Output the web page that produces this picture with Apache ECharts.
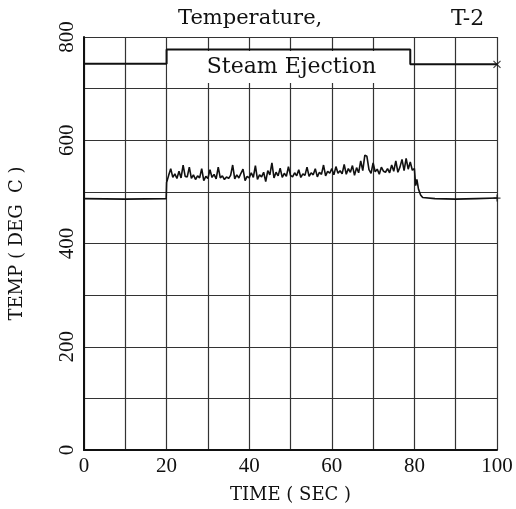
<!DOCTYPE html>
<html>
<head>
<meta charset="utf-8">
<script src="https://cdn.jsdelivr.net/npm/echarts@6/dist/echarts.min.js"></script>
<style>
  html, body { margin: 0; padding: 0; background: #fff; }
  #chart { width: 516px; height: 509px; }
</style>
</head>
<body>
<div id="chart"></div>
<script>
// upper trace (stepped)
const upperT = [0, 20, 20, 79, 79, 100]
const upperV = [748, 748, 776, 776, 747, 747]

// lower trace, flat before 20 s, noisy during ejection, back after 82 s
const lowT = [
  0, 10, 19.9,
  20.0, 20.5, 21.0, 21.5, 22.0, 22.5, 23.0, 23.5, 24.0, 24.5, 25.0, 25.5, 26.0, 26.5, 27.0, 27.5, 28.0, 28.5, 29.0, 29.5,
  30.0, 30.5, 31.0, 31.5, 32.0, 32.5, 33.0, 33.5, 34.0, 34.5, 35.0, 35.5, 36.0, 36.5, 37.0, 37.5, 38.0, 38.5, 39.0, 39.5,
  40.0, 40.5, 41.0, 41.5, 42.0, 42.5, 43.0, 43.5, 44.0, 44.5, 45.0, 45.5, 46.0, 46.5, 47.0, 47.5, 48.0, 48.5, 49.0, 49.5,
  50.0, 50.5, 51.0, 51.5, 52.0, 52.5, 53.0, 53.5, 54.0, 54.5, 55.0, 55.5, 56.0, 56.5, 57.0, 57.5, 58.0, 58.5, 59.0, 59.5,
  60.0, 60.5, 61.0, 61.5, 62.0, 62.5, 63.0, 63.5, 64.0, 64.5, 65.0, 65.5, 66.0, 66.5, 67.0, 67.5, 68.0, 68.5, 69.0, 69.5,
  70.0, 70.5, 71.0, 71.5, 72.0, 72.5, 73.0, 73.5, 74.0, 74.5, 75.0, 75.5, 76.0, 76.5, 77.0, 77.5, 78.0, 78.5, 79.0, 79.5,
  80.0, 80.3, 80.6, 81.0, 81.5, 82.0, 85, 90, 95, 100
]
const lowV = [
  487, 486, 487,
  518, 532, 545, 528, 535, 526, 540, 527, 552, 530, 529, 548, 526, 533, 524, 531, 527, 545, 522, 530,
  526, 543, 528, 534, 525, 548, 527, 531, 524, 529, 526, 532, 552, 525, 533, 527, 536, 544, 522, 530,
  527, 537, 528, 551, 524, 533, 529, 538, 520, 541, 533, 556, 527, 538, 531, 546, 528, 536, 530, 549,
  532, 529, 537, 531, 543, 528, 535, 532, 548, 530, 537, 533, 545, 529, 538, 534, 552, 531, 540, 536,
  545, 533, 549, 536, 541, 535, 553, 534, 545, 538, 551, 532, 547, 537, 560, 541, 571, 569, 543, 536,
  556, 539, 544, 534, 548, 540, 538, 545, 537, 552, 540, 560, 538, 548, 563, 541, 565, 544, 558, 542,
  545, 512, 524, 505, 494, 489, 487, 486, 487, 488
]

const xTicks = [0, 20, 40, 60, 80, 100]
const yTicks = [0, 200, 400, 600, 800]

const serif = '"Liberation Serif", "DejaVu Serif", serif'
const wideSerif = '"DejaVu Serif", "Liberation Serif", serif'

const chart = echarts.init(document.getElementById('chart'))

const upperData = upperT.map((t, i) => [t, upperV[i]])
const lowData = lowT.map((t, i) => [t, lowV[i]])

const option = {
  backgroundColor: '#fff',
  animation: false,
  textStyle: { fontFamily: serif, color: '#111' },
  title: [
    { text: 'Temperature,', left: 173, top: 3, textStyle: { fontFamily: wideSerif, fontWeight: 'normal', fontSize: 21, color: '#111' } },
    { text: 'T-2', left: 446, top: 3, textStyle: { fontFamily: wideSerif, fontWeight: 'normal', fontSize: 22, color: '#111' } }
  ],
  grid: { left: 82, right: 19, top: 37, bottom: 57 },
  xAxis: {
    type: 'value',
    min: 0,
    max: 100,
    interval: 10,
    name: 'TIME ( SEC )',
    nameLocation: 'middle',
    nameGap: 36,
    nameTextStyle: { fontFamily: wideSerif, fontSize: 18, color: '#111' },
    axisLine: { lineStyle: { color: '#111', width: 2 } },
    axisTick: { show: false },
    axisLabel: {
      margin: 6,
      fontFamily: serif,
      fontSize: 21,
      color: '#111',
      formatter: v => xTicks.includes(v) ? String(v) : ''
    },
    splitLine: { show: true, lineStyle: { color: '#333', width: 1.2 } }
  },
  yAxis: {
    type: 'value',
    min: 0,
    max: 800,
    interval: 100,
    name: 'TEMP ( DEG  C )',
    nameLocation: 'middle',
    nameRotate: 90,
    nameGap: 58,
    nameTextStyle: { fontFamily: wideSerif, fontSize: 18, color: '#111' },
    axisLine: { show: true, lineStyle: { color: '#111', width: 2 } },
    axisTick: { show: false },
    axisLabel: {
      rotate: 90,
      margin: 6,
      fontFamily: serif,
      fontSize: 21,
      color: '#111',
      formatter: v => yTicks.includes(v) ? String(v) : ''
    },
    splitLine: { show: true, lineStyle: { color: '#333', width: 1.2 } }
  },
  series: [
    {
      name: 'upper',
      type: 'line',
      data: upperData,
      symbol: 'none',
      lineStyle: { color: '#111', width: 2 },
      z: 3,
      markArea: {
        silent: true,
        itemStyle: { color: '#fff' },
        label: {
          show: true,
          position: 'inside',
          fontFamily: wideSerif,
          fontSize: 22,
          color: '#111',
          offset: [3, 0]
        },
        data: [[
          { name: 'Steam Ejection', coord: [20.2, 711] },
          { coord: [78.8, 773] }
        ]]
      }
    },
    {
      name: 'low',
      type: 'line',
      data: lowData,
      symbol: 'none',
      lineStyle: { color: '#111', width: 1.6 },
      z: 3
    },
    {
      name: 'ends',
      type: 'scatter',
      data: [
        { value: [100, 747], symbol: 'path://M0,0L10,10M10,0L0,10' },
        { value: [100, 488], symbol: 'path://M0,5L10,5M5,0L5,10' }
      ],
      symbolSize: 7,
      itemStyle: { color: 'none', borderColor: '#111', borderWidth: 1.2 },
      z: 4
    }
  ]
}

chart.setOption(option)
</script>
</body>
</html>
